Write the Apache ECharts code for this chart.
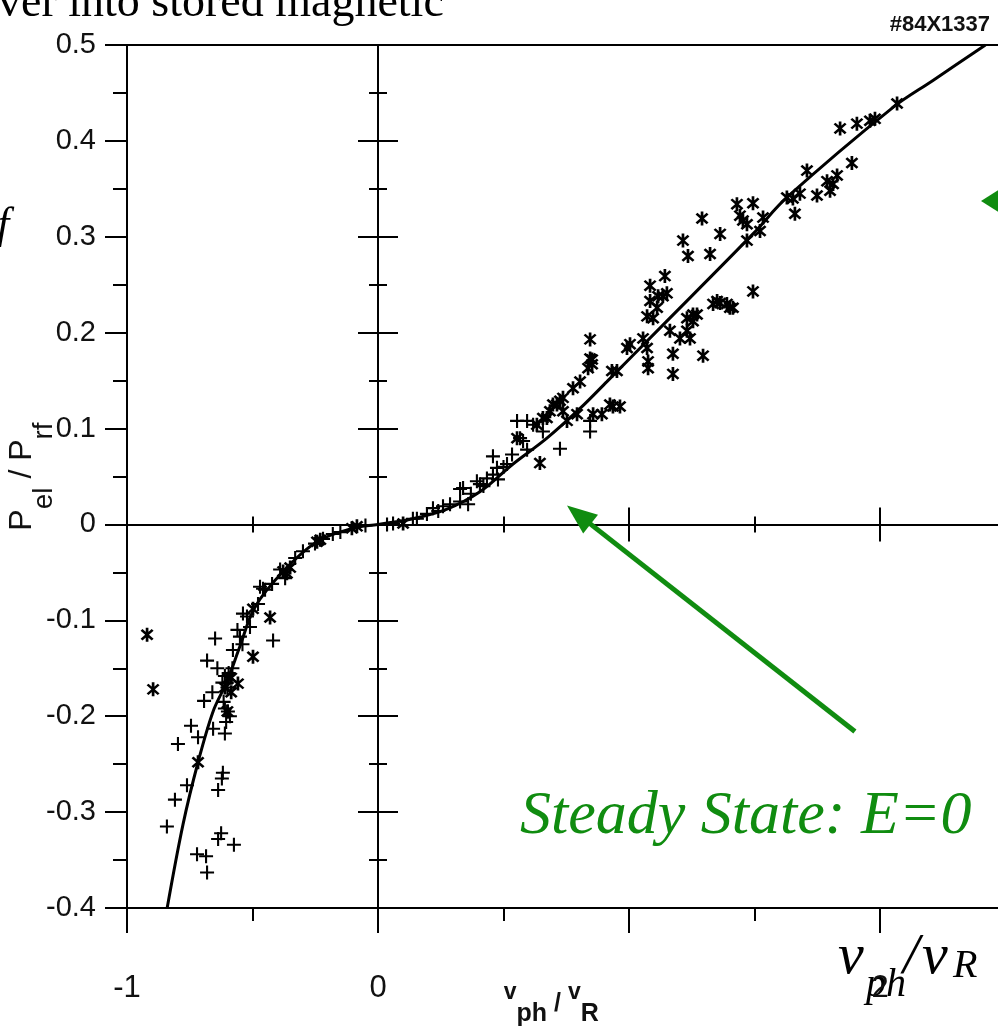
<!DOCTYPE html>
<html>
<head>
<meta charset="utf-8">
<script src="https://cdn.jsdelivr.net/npm/echarts@6/dist/echarts.min.js"></script>
<style>
  html, body { margin: 0; padding: 0; background: #fff; }
  #chart { width: 998px; height: 1028px; }
</style>
</head>
<body>
<div id="chart"></div>
<script>
// axis ticks that carry a label
const xTickLabels = [-1, 0, 2];

// fitted curve
const curvePoints = [
  [-0.84, -0.40], [-0.777, -0.313], [-0.717, -0.248], [-0.657, -0.195], [-0.602, -0.164],
  [-0.550, -0.127], [-0.490, -0.086], [-0.378, -0.049], [-0.243, -0.018], [-0.100, -0.004],
  [0, 0], [0.139, 0.006], [0.275, 0.016], [0.406, 0.034], [0.538, 0.063], [0.673, 0.090],
  [0.805, 0.121], [0.912, 0.149], [1.124, 0.205], [1.494, 0.303], [1.629, 0.341],
  [2.052, 0.435], [2.211, 0.463], [2.42, 0.50]
];

// "+" points
const plusNeg = [
  [-0.649, -0.119], [-0.681, -0.142], [-0.418, -0.121], [-0.693, -0.184], [-0.745, -0.210],
  [-0.797, -0.229], [-0.717, -0.222], [-0.610, -0.218], [-0.618, -0.259], [-0.622, -0.265],
  [-0.637, -0.277], [-0.761, -0.272], [-0.809, -0.287], [-0.841, -0.315], [-0.625, -0.322],
  [-0.637, -0.328], [-0.574, -0.334], [-0.721, -0.344], [-0.685, -0.346], [-0.681, -0.363],
  [-0.657, -0.213], [-0.598, -0.195], [-0.610, -0.192], [-0.590, -0.200], [-0.605, -0.206],
  [-0.615, -0.185], [-0.595, -0.155], [-0.610, -0.158], [-0.620, -0.165], [-0.600, -0.170],
  [-0.578, -0.131], [-0.550, -0.117], [-0.538, -0.093], [-0.522, -0.096], [-0.510, -0.107],
  [-0.470, -0.065], [-0.478, -0.083], [-0.450, -0.068], [-0.422, -0.062], [-0.390, -0.047],
  [-0.370, -0.056], [-0.299, -0.028], [-0.251, -0.020], [-0.219, -0.015], [-0.150, -0.008],
  [-0.560, -0.110], [-0.540, -0.125], [-0.640, -0.150], [-0.660, -0.175], [-0.580, -0.150],
  [-0.458, -0.067], [-0.330, -0.035], [-0.180, -0.010], [-0.050, -0.001]
];
const plusPos = [
  [0.036, 0.000], [0.139, 0.006], [0.155, 0.006], [0.195, 0.011], [0.219, 0.017], [0.259, 0.019],
  [0.287, 0.021], [0.327, 0.024], [0.327, 0.037], [0.339, 0.038], [0.359, 0.021], [0.394, 0.045],
  [0.406, 0.042], [0.434, 0.048], [0.458, 0.052], [0.478, 0.047], [0.458, 0.071], [0.474, 0.059],
  [0.534, 0.073], [0.578, 0.087], [0.566, 0.090], [0.594, 0.078], [0.554, 0.108], [0.594, 0.108],
  [0.725, 0.079], [0.845, 0.097], [0.845, 0.108], [0.514, 0.063], [0.618, 0.104], [0.657, 0.097],
  [0.060, 0.001], [0.240, 0.014], [0.370, 0.032], [0.420, 0.040], [0.500, 0.060]
];

// "*" points
const starNeg = [
  [-0.920, -0.115], [-0.896, -0.172], [-0.430, -0.097], [-0.498, -0.138], [-0.558, -0.166],
  [-0.717, -0.248], [-0.104, -0.004], [-0.084, -0.002], [-0.243, -0.018], [-0.230, -0.016],
  [-0.363, -0.051], [-0.378, -0.049], [-0.350, -0.045], [-0.498, -0.088], [-0.598, -0.161],
  [-0.610, -0.170], [-0.585, -0.175], [-0.600, -0.195], [-0.585, -0.160]
];
const starPos = [
  [0.100, 0.001], [0.645, 0.064], [0.673, 0.111], [0.697, 0.125], [0.737, 0.118], [0.753, 0.108],
  [0.793, 0.115], [0.857, 0.115], [0.964, 0.123], [0.924, 0.125], [0.892, 0.115], [0.936, 0.123],
  [0.845, 0.193], [0.853, 0.172], [0.837, 0.163], [0.805, 0.149], [0.777, 0.142], [0.737, 0.132],
  [0.713, 0.125], [0.685, 0.118], [0.657, 0.111], [0.633, 0.104], [0.932, 0.160], [1.004, 0.188],
  [1.072, 0.184], [1.076, 0.170], [1.076, 0.163], [1.056, 0.194], [1.072, 0.217], [1.096, 0.215],
  [1.084, 0.233], [1.135, 0.238], [1.143, 0.259], [1.084, 0.249], [1.163, 0.202], [1.175, 0.178],
  [1.175, 0.157], [1.203, 0.194], [1.255, 0.212], [1.243, 0.194], [1.271, 0.219], [1.231, 0.202],
  [1.295, 0.176], [1.351, 0.233], [1.390, 0.230], [1.414, 0.226], [1.494, 0.243], [1.841, 0.413],
  [1.908, 0.418], [1.960, 0.421], [1.980, 0.423], [1.888, 0.377], [1.709, 0.369], [1.789, 0.358],
  [1.813, 0.355], [1.829, 0.364], [1.801, 0.348], [1.749, 0.343], [1.629, 0.341], [1.653, 0.340],
  [1.681, 0.345], [1.661, 0.324], [1.494, 0.335], [1.430, 0.334], [1.442, 0.322], [1.454, 0.317],
  [1.470, 0.313], [1.534, 0.320], [1.522, 0.306], [1.470, 0.296], [1.291, 0.319], [1.363, 0.303],
  [1.215, 0.296], [1.235, 0.280], [1.323, 0.282], [1.363, 0.231], [1.402, 0.226], [1.335, 0.230],
  [1.255, 0.219], [1.231, 0.215], [2.068, 0.439], [1.151, 0.241], [1.116, 0.238], [1.112, 0.226],
  [0.992, 0.184], [0.952, 0.160], [0.853, 0.167], [0.845, 0.173], [0.725, 0.129], [0.554, 0.090]
];

// arrow annotation (tail -> head), in data units
const arrowFrom = [1.90, -0.216];
const arrowTo = [0.80, 0.010];

const GREEN = '#108c10';
const INK = '#111';
const PLUS = 'path://M-1,-0.15H1V0.15H-1Z M-0.15,-1H0.15V1H-0.15Z';
const STAR = 'path://M-0.17,-1H0.17V1H-0.17Z M0.58,0.82L-0.82,-0.58L-0.58,-0.82L0.82,0.58Z M-0.82,0.58L0.58,-0.82L0.82,-0.58L-0.58,0.82Z';

const lineStyle = { color: '#000', width: 2 };

const myChart = echarts.init(document.getElementById('chart'));

// bottom / top frame axes and the two crossing axes at zero
const xBase = { type: 'value', min: -1, max: 2.5, interval: 1, splitLine: { show: false } };
const yBase = { type: 'value', min: -0.4, max: 0.5, interval: 0.1, splitLine: { show: false } };

const option = {
  animation: false,
  backgroundColor: '#fff',
  grid: { left: 127, top: 45, width: 878.5, height: 863, outerBoundsMode: 'none', containLabel: false },
  xAxis: [
    Object.assign({}, xBase, {
      position: 'bottom',
      axisLine: { onZero: false, lineStyle },
      axisTick: { length: 25, lineStyle },
      minorTick: { show: true, splitNumber: 2, length: 13, lineStyle },
      axisLabel: {
        margin: 65, fontSize: 31, fontFamily: 'Liberation Sans', color: INK, showMaxLabel: false,
        formatter: v => (xTickLabels.includes(v) ? String(v) : '')
      },
      name: '{v|v}{s|ph}{p| / }{v|v}{s|R}',
      nameLocation: 'middle',
      nameGap: 73,
      nameMoveOverlap: false,
      nameTextStyle: {
        padding: [0, 30, 0, 0],
        rich: {
          v: { fontSize: 23, fontWeight: 'bold', fontFamily: 'Liberation Sans', color: INK, verticalAlign: 'top', lineHeight: 26 },
          s: { fontSize: 25, fontWeight: 'bold', fontFamily: 'Liberation Sans', color: INK, verticalAlign: 'bottom', lineHeight: 46 },
          p: { fontSize: 25, fontWeight: 'bold', fontFamily: 'Liberation Sans', color: INK, lineHeight: 32 }
        }
      }
    }),
    Object.assign({}, xBase, {
      position: 'top',
      axisLine: { onZero: false, lineStyle },
      axisTick: { show: false },
      axisLabel: { show: false }
    }),
    Object.assign({}, xBase, {
      position: 'bottom',
      axisLine: { onZero: true, onZeroAxisIndex: 0, lineStyle },
      axisTick: { length: 17, lineStyle },
      minorTick: { show: true, splitNumber: 2, length: 8, lineStyle },
      axisLabel: { show: false }
    }),
    Object.assign({}, xBase, {
      position: 'top',
      axisLine: { onZero: true, onZeroAxisIndex: 0, lineStyle },
      axisTick: { length: 17, lineStyle },
      minorTick: { show: true, splitNumber: 2, length: 8, lineStyle },
      axisLabel: { show: false }
    })
  ],
  yAxis: [
    Object.assign({}, yBase, {
      position: 'left',
      axisLine: { onZero: false, lineStyle },
      axisTick: { length: 22, lineStyle },
      minorTick: { show: true, splitNumber: 2, length: 14, lineStyle },
      axisLabel: { margin: 31, fontSize: 29, fontFamily: 'Liberation Sans', color: INK },
      name: '{p|P}{s|el}{p| / P}{s|rf}',
      nameLocation: 'middle',
      nameRotate: 90,
      nameGap: 69,
      nameMoveOverlap: false,
      nameTextStyle: {
        rich: {
          p: { fontSize: 32, fontFamily: 'Liberation Sans', color: INK, verticalAlign: 'top', lineHeight: 34 },
          s: { fontSize: 28, fontFamily: 'Liberation Sans', color: INK, verticalAlign: 'bottom', lineHeight: 52 }
        }
      }
    }),
    Object.assign({}, yBase, {
      position: 'left',
      axisLine: { onZero: true, onZeroAxisIndex: 0, lineStyle },
      axisTick: { length: 20, lineStyle },
      minorTick: { show: true, splitNumber: 2, length: 9, lineStyle },
      axisLabel: { show: false }
    }),
    Object.assign({}, yBase, {
      position: 'right',
      axisLine: { onZero: true, onZeroAxisIndex: 0, lineStyle },
      axisTick: { length: 20, lineStyle },
      minorTick: { show: true, splitNumber: 2, length: 9, lineStyle },
      axisLabel: { show: false }
    })
  ],
  series: [
    {
      name: 'fit',
      type: 'line',
      data: curvePoints,
      smooth: 0.35,
      showSymbol: false,
      lineStyle: { color: '#000', width: 3 },
      z: 3,
      markLine: {
        silent: true,
        symbol: ['none', 'triangle'],
        symbolSize: [24, 30],
        label: { show: false },
        lineStyle: { color: GREEN, width: 5, type: 'solid' },
        itemStyle: { color: GREEN },
        data: [[{ coord: arrowFrom }, { coord: arrowTo }]]
      }
    },
    {
      name: 'plus',
      type: 'scatter',
      data: plusNeg.concat(plusPos),
      symbol: PLUS,
      symbolSize: 14,
      itemStyle: { color: '#000', opacity: 1 },
      z: 4
    },
    {
      name: 'star',
      type: 'scatter',
      data: starNeg.concat(starPos),
      symbol: STAR,
      symbolSize: [13, 14],
      itemStyle: { color: '#000', opacity: 1 },
      z: 4
    }
  ],
  graphic: [
    { type: 'text', x: -2, y: 4, style: { text: 'ver into stored magnetic', fontSize: 46, fontFamily: 'Liberation Serif', fill: '#000', verticalAlign: 'middle' } },
    { type: 'text', x: -3, y: 226, style: { text: 'f', fontSize: 44, fontStyle: 'italic', fontFamily: 'Liberation Serif', fill: '#000', verticalAlign: 'middle' } },
    { type: 'text', x: 990, y: 25, style: { text: '#84X1337', fontSize: 22, fontWeight: 'bold', fontFamily: 'Liberation Sans', fill: '#111', align: 'right', verticalAlign: 'middle' } },
    { type: 'text', x: 520, y: 817, style: { text: 'Steady State: E=0', fontSize: 62, fontStyle: 'italic', fontFamily: 'Liberation Serif', fill: GREEN, verticalAlign: 'middle' } },
    { type: 'polygon', shape: { points: [[981, 201], [1000, 189], [1000, 213]] }, style: { fill: GREEN } },
    { type: 'text', x: 838, y: 958, style: { text: 'v', fontSize: 58, fontStyle: 'italic', fontFamily: 'Liberation Serif', fill: '#000', verticalAlign: 'middle' } },
    { type: 'text', x: 866, y: 985, style: { text: 'ph', fontSize: 40, fontStyle: 'italic', fontFamily: 'Liberation Serif', fill: '#000', verticalAlign: 'middle' } },
    { type: 'text', x: 903, y: 958, style: { text: '/', fontSize: 58, fontStyle: 'italic', fontFamily: 'Liberation Serif', fill: '#000', verticalAlign: 'middle' } },
    { type: 'text', x: 922, y: 958, style: { text: 'v', fontSize: 58, fontStyle: 'italic', fontFamily: 'Liberation Serif', fill: '#000', verticalAlign: 'middle' } },
    { type: 'text', x: 953, y: 966, style: { text: 'R', fontSize: 40, fontStyle: 'italic', fontFamily: 'Liberation Serif', fill: '#000', verticalAlign: 'middle' } }
  ]
};

myChart.setOption(option);
</script>
</body>
</html>
